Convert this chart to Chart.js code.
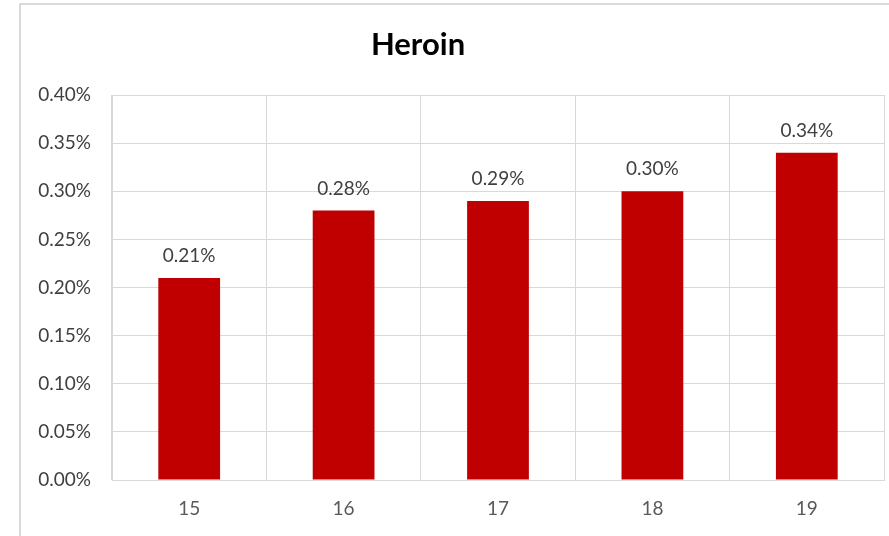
<!DOCTYPE html>
<html>
<head>
<meta charset="utf-8">
<script src="https://cdn.jsdelivr.net/npm/chart.js@4"></script>
<style>
  html, body { margin: 0; padding: 0; background: #fff; }
  #frame {
    position: absolute; left: 19px; top: 3px;
    width: 868px; height: 531px;
    border-left: 2px solid #d9d9d9; border-top: 2px solid #d9d9d9;
  }
  #chart { display: block; }
</style>
</head>
<body>
<div id="frame"><canvas id="chart" width="868" height="531"></canvas></div>
<script>
// chart data
const chartTitle = 'Heroin';
const ages = ['15', '16', '17', '18', '19'];
const heroinPct = [0.21, 0.28, 0.29, 0.30, 0.34];

const fontFamily = 'Lato, "Open Sans", sans-serif';

// titulo y etiquetas de valor dibujados a mano
const extrasPlugin = {
    id: 'extras',
    afterDatasetsDraw(chart) {
        const ctx = chart.ctx;
        ctx.save();
        ctx.fillStyle = '#000';
        ctx.font = 'bold 31px ' + fontFamily;
        ctx.textAlign = 'center';
        ctx.textBaseline = 'middle';
        ctx.fillText(chartTitle, 397, 40);

        ctx.font = '19px ' + fontFamily;
        ctx.fillStyle = '#404040';
        ctx.textBaseline = 'alphabetic';
        const meta = chart.getDatasetMeta(0);
        meta.data.forEach((bar, i) => {
            ctx.fillText(heroinPct[i].toFixed(2) + '%', bar.x, bar.y - 16);
        });
        ctx.restore();
    }
};

new Chart(document.getElementById('chart'), {
    type: 'bar',
    data: {
        labels: ages,
        datasets: [{
            data: heroinPct,
            backgroundColor: '#c00000',
            borderWidth: 0,
            barPercentage: 0.4,
            categoryPercentage: 1
        }]
    },
    options: {
        responsive: false,
        animation: false,
        layout: { padding: { top: 90, right: 5, left: 0, bottom: 0 } },
        plugins: {
            legend: { display: false },
            tooltip: { enabled: false }
        },
        scales: {
            x: {
                grid: { color: '#d9d9d9', drawTicks: false, offset: true },
                border: { color: '#d9d9d9' },
                ticks: { color: '#595959', padding: 17, font: { size: 19, family: fontFamily } },
                afterFit(scale) { scale.height = 56; }
            },
            y: {
                min: 0,
                max: 0.40,
                grid: { color: '#d9d9d9', drawTicks: false },
                border: { color: '#d9d9d9' },
                ticks: {
                    stepSize: 0.05,
                    padding: 21,
                    color: '#404040',
                    font: { size: 19, family: fontFamily },
                    callback: v => v.toFixed(2) + '%'
                },
                afterFit(scale) { scale.width = 91; }
            }
        }
    },
    plugins: [extrasPlugin]
});
</script>
</body>
</html>
